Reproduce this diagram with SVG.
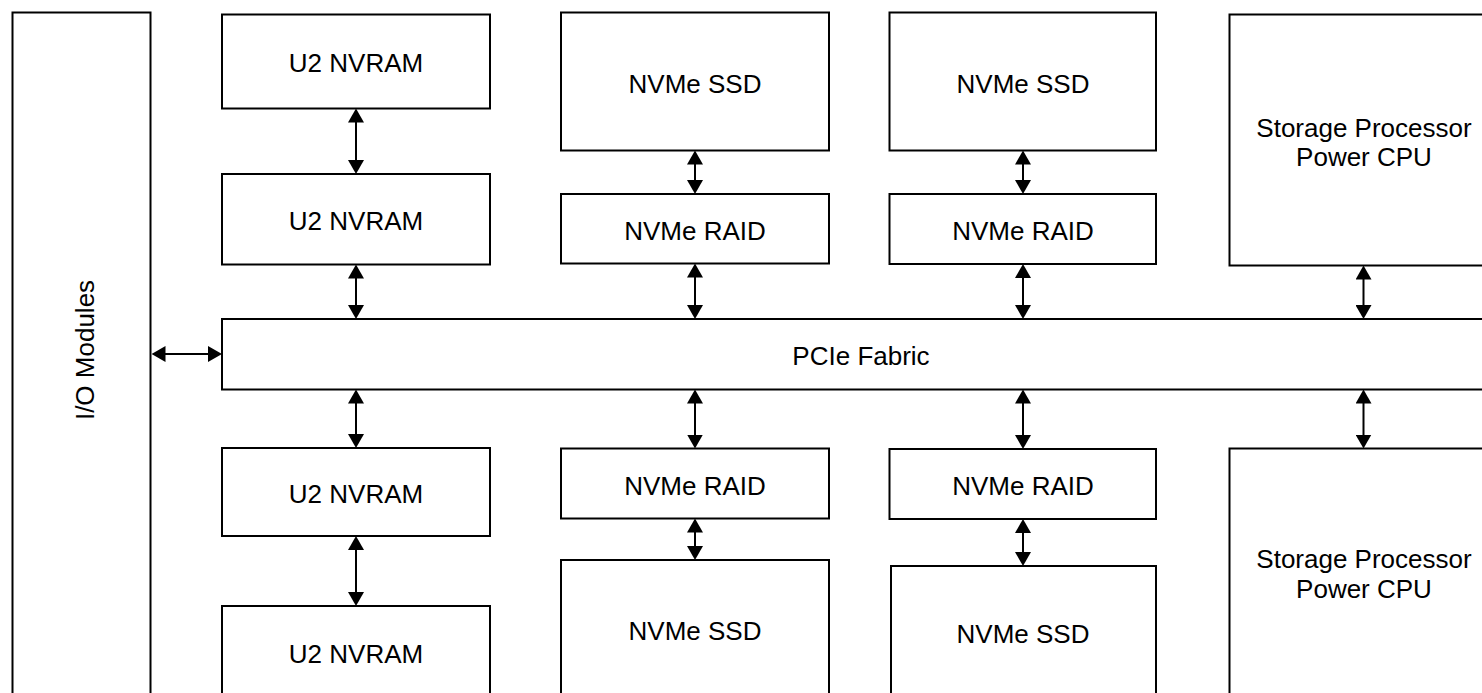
<svg xmlns="http://www.w3.org/2000/svg" width="1482" height="693" viewBox="0 0 1482 693">
<style>
.box{fill:#fff;stroke:#000;stroke-width:2}
.lbl{font-family:"Liberation Sans",Arial,sans-serif;font-size:26px;fill:#000;text-anchor:middle}
.con{stroke:#000;stroke-width:2;fill:none;marker-start:url(#ah);marker-end:url(#ah)}
</style>
<defs>
<marker id="ah" viewBox="0 0 14 16" refX="4" refY="8" markerWidth="14" markerHeight="16" markerUnits="userSpaceOnUse" orient="auto-start-reverse">
<path d="M0,0 L14,8 L0,16 z" fill="#000"/>
</marker>
</defs>
<rect width="1482" height="693" fill="#fff"/>
<g id="io-modules"><rect class="box" x="12.5" y="12.5" width="138" height="720"/><text class="lbl" transform="translate(93.5,350) rotate(-90)">I/O Modules</text></g>
<g id="u2-nvram-1"><rect class="box" x="222" y="14.5" width="268" height="94"/><text class="lbl" x="356" y="72">U2 NVRAM</text></g>
<g id="u2-nvram-2"><rect class="box" x="222" y="174" width="268" height="90.5"/><text class="lbl" x="356" y="230">U2 NVRAM</text></g>
<g id="u2-nvram-3"><rect class="box" x="222" y="448" width="268" height="88"/><text class="lbl" x="356" y="503">U2 NVRAM</text></g>
<g id="u2-nvram-4"><rect class="box" x="222" y="606" width="268" height="120"/><text class="lbl" x="356" y="663">U2 NVRAM</text></g>
<g id="nvme-ssd-1"><rect class="box" x="561" y="12.5" width="268" height="138"/><text class="lbl" x="695" y="92.5">NVMe SSD</text></g>
<g id="nvme-raid-1"><rect class="box" x="561" y="194" width="268" height="69.5"/><text class="lbl" x="695" y="240">NVMe RAID</text></g>
<g id="nvme-raid-3"><rect class="box" x="561" y="448.5" width="268" height="70"/><text class="lbl" x="695" y="495">NVMe RAID</text></g>
<g id="nvme-ssd-3"><rect class="box" x="561" y="560" width="268" height="160"/><text class="lbl" x="695" y="640">NVMe SSD</text></g>
<g id="nvme-ssd-2"><rect class="box" x="889.5" y="12.5" width="266.5" height="138"/><text class="lbl" x="1023" y="93">NVMe SSD</text></g>
<g id="nvme-raid-2"><rect class="box" x="889.5" y="194" width="266.5" height="70"/><text class="lbl" x="1023" y="240">NVMe RAID</text></g>
<g id="nvme-raid-4"><rect class="box" x="889.5" y="449" width="266.5" height="70"/><text class="lbl" x="1023" y="495">NVMe RAID</text></g>
<g id="nvme-ssd-4"><rect class="box" x="891" y="566" width="265" height="160"/><text class="lbl" x="1023" y="643">NVMe SSD</text></g>
<g id="sp-1"><rect class="box" x="1229.5" y="14.5" width="280" height="251"/><text class="lbl" x="1364" y="137">Storage Processor</text><text class="lbl" x="1364" y="166">Power CPU</text></g>
<g id="sp-2"><rect class="box" x="1229.5" y="448.5" width="280" height="300"/><text class="lbl" x="1364" y="568">Storage Processor</text><text class="lbl" x="1364" y="598">Power CPU</text></g>
<g id="pcie-fabric"><rect class="box" x="222" y="319" width="1300" height="70.5"/><text class="lbl" x="861" y="365">PCIe Fabric</text></g>
<g id="connectors">
<line class="con" x1="356" y1="118.5" x2="356" y2="164"/>
<line class="con" x1="356" y1="274.5" x2="356" y2="309"/>
<line class="con" x1="356" y1="399.5" x2="356" y2="438"/>
<line class="con" x1="356" y1="546" x2="356" y2="596"/>
<line class="con" x1="695" y1="160.5" x2="695" y2="184"/>
<line class="con" x1="695" y1="273.5" x2="695" y2="309"/>
<line class="con" x1="695" y1="399.5" x2="695" y2="438.5"/>
<line class="con" x1="695" y1="528.5" x2="695" y2="550"/>
<line class="con" x1="1023" y1="160.5" x2="1023" y2="184"/>
<line class="con" x1="1023" y1="274" x2="1023" y2="309"/>
<line class="con" x1="1023" y1="399.5" x2="1023" y2="439"/>
<line class="con" x1="1023" y1="529" x2="1023" y2="556"/>
<line class="con" x1="1363.5" y1="275.5" x2="1363.5" y2="309"/>
<line class="con" x1="1363.5" y1="399.5" x2="1363.5" y2="438.5"/>
<line class="con" x1="161.5" y1="354" x2="212" y2="354"/>
</g>
</svg>
